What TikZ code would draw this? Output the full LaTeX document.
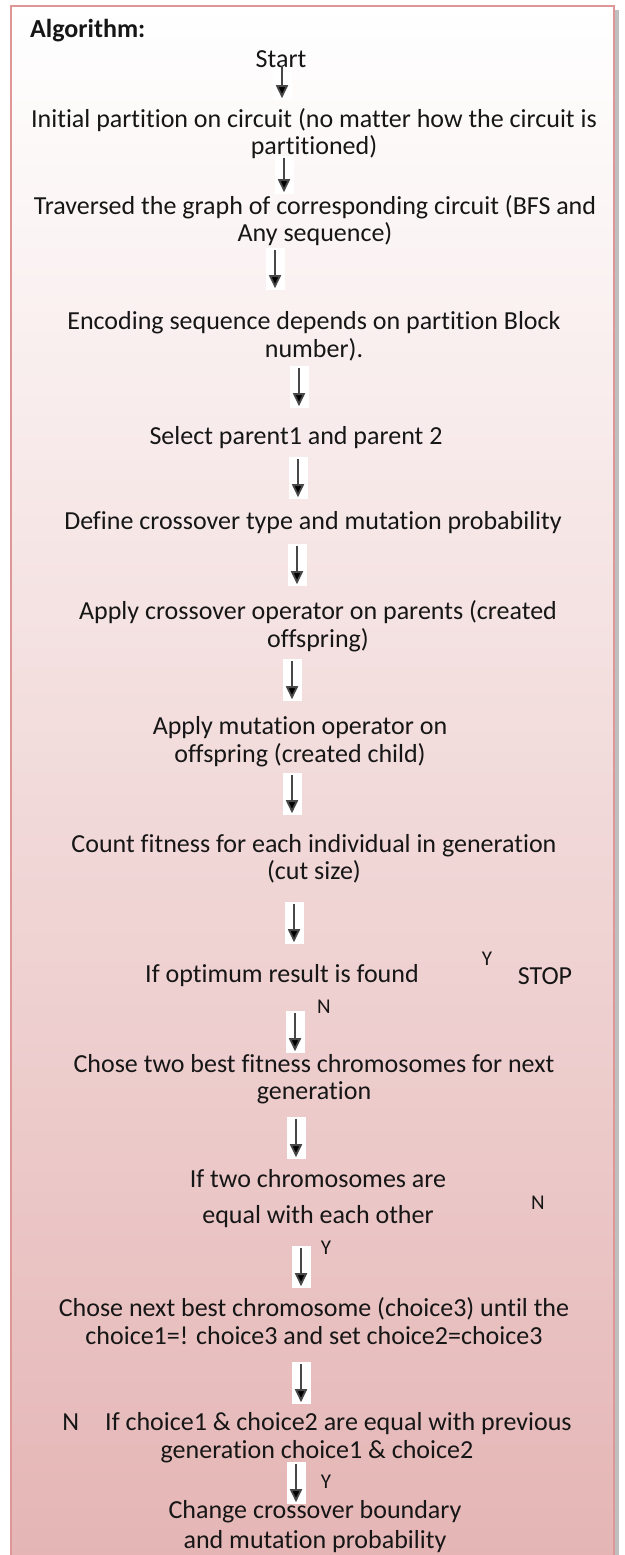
\documentclass[tikz,border=0pt]{standalone}
\usepackage{fontspec}
\setmainfont{Carlito}[Ligatures={NoCommon}]
\usetikzlibrary{arrows.meta}
\definecolor{boxbot}{RGB}{229,181,181}
\definecolor{boxline}{RGB}{222,150,150}
\definecolor{inkc}{RGB}{22,22,22}
\tikzset{
  txt/.style={font=\fontsize{26}{27.5}\selectfont, text=inkc, align=center, inner sep=0pt},
  lbl/.style={font=\fontsize{21}{22}\selectfont, text=inkc, inner sep=0pt},
  arrbox/.style={fill=white, draw=none, minimum width=19pt, minimum height=42pt, inner sep=0pt},
  flow/.style={draw=black!72, line width=1.8pt, -{Triangle[width=12pt,length=13pt,fill=black]}, shorten <=2pt, shorten >=2pt},
}
\begin{document}
\begin{tikzpicture}[x=1pt,y=-1pt]
  \useasboundingbox (0,0) rectangle (624,1555);
  \fill[white] (0,0) rectangle (624,1555);
  % drop shadow and shaded panel
  \fill[black!25] (615,10) rectangle (619,1555);
  \shade[top color=white, bottom color=boxbot] (11,6) rectangle (614,1560);
  \draw[boxline, line width=1.5pt] (11,1560) -- (11,6) -- (614,6) -- (614,1560);

  % white strips behind the arrows
  \node[arrbox, minimum height=36pt] (a1) at (282,82) {};
  \node[arrbox, minimum height=38pt] (a2) at (284,175) {};
  \node[arrbox] (a3) at (275,269) {};
  \node[arrbox] (a4) at (299,387) {};
  \node[arrbox] (a5) at (298,478) {};
  \node[arrbox] (a6) at (297,565) {};
  \node[arrbox] (a7) at (292,680) {};
  \node[arrbox] (a8) at (292,794) {};
  \node[arrbox] (a9) at (294,923) {};
  \node[arrbox] (a10) at (295,1032) {};
  \node[arrbox] (a11) at (296,1138) {};
  \node[arrbox] (a12) at (301,1267) {};
  \node[arrbox] (a13) at (301,1383) {};
  \node[arrbox] (a14) at (296,1483) {};

  % algorithm steps
  \node[txt, font=\fontsize{26}{27.5}\selectfont\bfseries, anchor=west] (alg) at (30,31) {Algorithm:};
  \node[txt] (start) at (281,59) {Start};
  \node[txt] (init) at (314,133.5) {Initial partition on circuit (no matter how the circuit is\\partitioned)};
  \node[txt] (trav) at (315,220.5) {Traversed the graph of corresponding circuit (BFS and\\Any sequence)};
  \node[txt] (enc) at (314,336.5) {Encoding sequence depends on partition Block\\number).};
  \node[txt] (sel) at (296,438) {Select parent1 and parent 2};
  \node[txt] (def) at (313,523) {Define crossover type and mutation probability};
  \node[txt] (appc) at (318,626) {Apply crossover operator on parents (created\\offspring)};
  \node[txt] (appm) at (300,741.5) {Apply mutation operator on\\offspring (created child)};
  \node[txt] (count) at (314,859) {Count fitness for each individual in generation\\(cut size)};
  \node[txt] (ifopt) at (282,976) {If optimum result is found};
  \node[lbl] (yes1) at (487,959) {Y};
  \node[txt] (stop) at (545,976) {STOP};
  \node[lbl] (no1) at (324,1007) {N};
  \node[txt] (chose) at (314,1079) {Chose two best fitness chromosomes for next\\generation};
  \node[txt] (iftwo) at (318,1199) {If two chromosomes are\\[8.5pt]equal with each other};
  \node[lbl] (no2) at (538,1203) {N};
  \node[lbl] (yes2) at (326,1248) {Y};
  \node[txt] (next) at (314,1321) {Chose next best chromosome (choice3) until the\\choice1=! choice3 and set choice2=choice3};
  \node[txt] (ifch) at (317,1437.5) {N\hspace{26pt}If choice1 \& choice2 are equal with previous\\generation choice1 \& choice2};
  \node[lbl] (yes3) at (326,1482) {Y};
  \node[txt] (change) at (315,1527) {Change crossover boundary\\[2.5pt]and mutation probability};

  % downward arrows
  \foreach \k in {1,...,14} {
    \draw[flow] (a\k.north) -- (a\k.south);
  }
\end{tikzpicture}
\end{document}
